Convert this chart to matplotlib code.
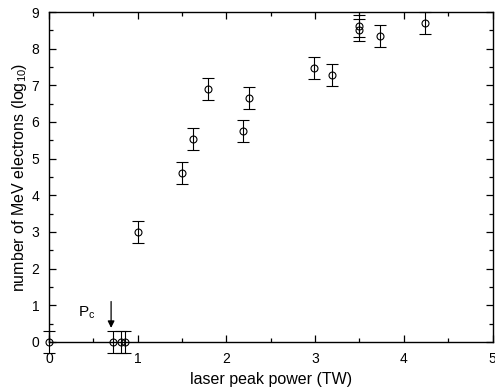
import numpy as np
import matplotlib
matplotlib.use("Agg")
import matplotlib.pyplot as plt
from matplotlib.ticker import MultipleLocator

plt.rcParams["font.family"] = ["Liberation Sans", "DejaVu Sans"]

# laser peak power (TW) vs. log10 number of MeV electrons
power = [0.0, 0.72, 0.81, 0.86, 1.0, 1.5, 1.62, 1.79, 2.19, 2.25,
         2.99, 3.19, 3.49, 3.49, 3.73, 4.24]
electrons = [0.0, 0.0, 0.0, 0.0, 3.0, 4.6, 5.53, 6.89, 5.75, 6.65,
             7.48, 7.27, 8.52, 8.61, 8.34, 8.69]
err = [0.3] * len(power)

fig = plt.figure(figsize=(4.95, 3.88), dpi=100)
ax = fig.add_axes([0.099, 0.119, 0.896, 0.850])

ax.errorbar(power, electrons, yerr=err, fmt="o", ms=5, mfc="none", mec="black",
            mew=0.8, ecolor="black", elinewidth=0.8, capsize=4.5, capthick=0.8,
            clip_on=False, zorder=3)

ax.text(0.42, 0.8, "P$_\\mathregular{c}$", fontsize=11, ha="center", va="center")
ax.annotate("", xy=(0.70, 0.38), xytext=(0.70, 1.1),
            arrowprops=dict(arrowstyle="-|>", color="black", lw=0.9,
                            mutation_scale=10, shrinkA=0, shrinkB=0))

ax.set_xlim(0, 5)
ax.set_ylim(0, 9)
ax.xaxis.set_major_locator(MultipleLocator(1))
ax.xaxis.set_minor_locator(MultipleLocator(0.5))
ax.yaxis.set_major_locator(MultipleLocator(1))
ax.yaxis.set_minor_locator(MultipleLocator(0.5))
ax.tick_params(which="both", direction="in", top=True, right=True,
               width=0.9, labelsize=10)
ax.tick_params(which="major", length=5)
ax.tick_params(which="minor", length=3)
ax.tick_params(axis="x", which="major", pad=7)
ax.tick_params(axis="y", which="major", pad=7)
for s in ax.spines.values():
    s.set_linewidth(1.0)

ax.set_xlabel("laser peak power (TW)", fontsize=11.5, labelpad=5)
ax.set_ylabel("number of MeV electrons (log$_\\mathregular{10}$)", fontsize=11.5,
              labelpad=2)

fig.savefig("out.png", dpi=100)
